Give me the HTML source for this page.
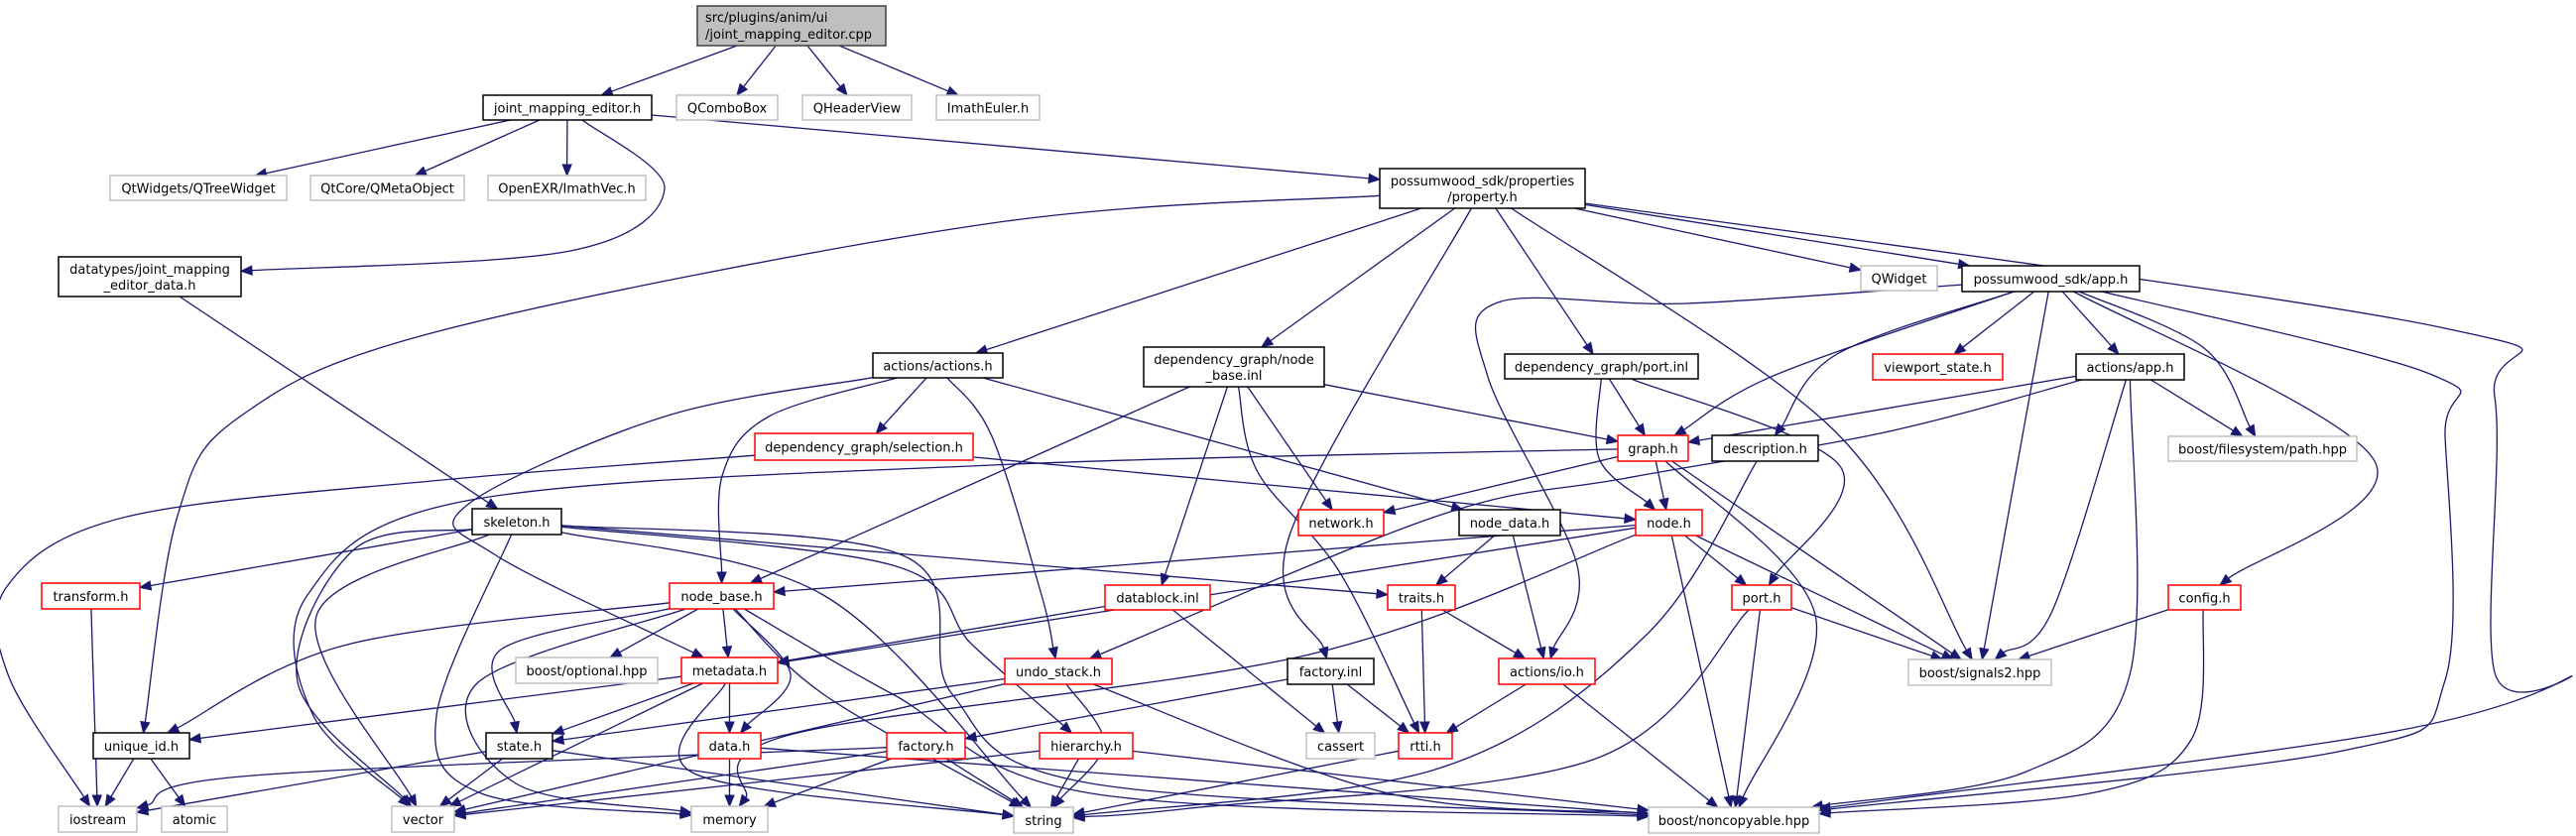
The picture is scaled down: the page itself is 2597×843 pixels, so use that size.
<!DOCTYPE html>
<html><head><meta charset="utf-8"><style>
html,body{margin:0;padding:0;background:#fff;width:2597px;height:843px;overflow:hidden}
svg{display:block}
text{font-family:"DejaVu Sans","Liberation Sans",sans-serif;font-size:13px;fill:#000}
</style></head><body>
<svg id="g" width="2597" height="843" viewBox="0 0 2597 843" xmlns="http://www.w3.org/2000/svg">
<g id="edges"></g><g id="nodes"></g>
<text x="-100" y="-100">src/plugins/anim/ui /joint_mapping_editor.cpp joint_mapping_editor.h QComboBox QHeaderView ImathEuler.h QtWidgets/QTreeWidget QtCore/QMetaObject OpenEXR/ImathVec.h datatypes/joint_mapping _editor_data.h possumwood_sdk/properties /property.h QWidget possumwood_sdk/app.h actions/actions.h dependency_graph/node _base.inl dependency_graph/port.inl viewport_state.h actions/app.h dependency_graph/selection.h graph.h description.h boost/filesystem/path.hpp skeleton.h network.h node_data.h node.h transform.h node_base.h traits.h datablock.inl port.h config.h boost/optional.hpp metadata.h undo_stack.h factory.inl actions/io.h boost/signals2.hpp unique_id.h state.h data.h factory.h hierarchy.h cassert rtti.h iostream atomic vector memory string boost/noncopyable.hpp</text>
</svg>
<script>
var N={
root:[703,6,893,46,["src/plugins/anim/ui","/joint_mapping_editor.cpp"],"root"],
jme:[487,96,657,121,["joint_mapping_editor.h"],"b"],
qcb:[682,96,784,121,["QComboBox"],"g"],
qhv:[809,96,919,121,["QHeaderView"],"g"],
ime:[944,96,1048,121,["ImathEuler.h"],"g"],
qtw:[111,177,289,202,["QtWidgets/QTreeWidget"],"g"],
qmo:[313,177,468,202,["QtCore/QMetaObject"],"g"],
ivec:[492,177,651,202,["OpenEXR/ImathVec.h"],"g"],
dt:[59,259,243,299,["datatypes/joint_mapping","_editor_data.h"],"b"],
prop:[1391,170,1598,210,["possumwood_sdk/properties","/property.h"],"b"],
qw:[1876,268,1953,293,["QWidget"],"g"],
app:[1978,268,2157,294,["possumwood_sdk/app.h"],"b"],
act:[880,356,1011,381,["actions/actions.h"],"b"],
nbi:[1153,350,1335,390,["dependency_graph/node","_base.inl"],"b"],
pinl:[1517,357,1712,382,["dependency_graph/port.inl"],"b"],
vps:[1888,357,2019,383,["viewport_state.h"],"r"],
aapp:[2093,357,2202,383,["actions/app.h"],"b"],
sel:[761,437,981,464,["dependency_graph/selection.h"],"r"],
graph:[1631,439,1702,465,["graph.h"],"r"],
desc:[1726,439,1833,465,["description.h"],"b"],
fs:[2186,440,2376,465,["boost/filesystem/path.hpp"],"g"],
skel:[476,513,566,539,["skeleton.h"],"b"],
net:[1309,514,1395,540,["network.h"],"r"],
nd:[1471,514,1573,540,["node_data.h"],"b"],
node:[1649,514,1716,540,["node.h"],"r"],
tr:[42,588,141,614,["transform.h"],"r"],
nb:[675,588,780,614,["node_base.h"],"r"],
trait:[1399,590,1467,615,["traits.h"],"r"],
dbi:[1114,590,1220,615,["datablock.inl"],"r"],
port:[1746,590,1806,615,["port.h"],"r"],
cfg:[2186,590,2259,615,["config.h"],"r"],
opt:[520,663,663,689,["boost/optional.hpp"],"g"],
meta:[687,663,784,689,["metadata.h"],"r"],
undo:[1013,664,1121,690,["undo_stack.h"],"r"],
finl:[1298,664,1385,690,["factory.inl"],"b"],
io:[1511,664,1608,690,["actions/io.h"],"r"],
sig:[1924,665,2068,691,["boost/signals2.hpp"],"g"],
uid:[94,739,191,765,["unique_id.h"],"b"],
state:[490,739,557,765,["state.h"],"b"],
data:[704,739,767,765,["data.h"],"r"],
fac:[894,739,973,765,["factory.h"],"r"],
hier:[1048,739,1142,765,["hierarchy.h"],"r"],
cas:[1317,739,1386,765,["cassert"],"g"],
rtti:[1410,739,1464,765,["rtti.h"],"r"],
ios:[59,813,138,839,["iostream"],"g"],
atom:[163,813,229,839,["atomic"],"g"],
vec:[395,813,458,839,["vector"],"g"],
mem:[697,813,774,839,["memory"],"g"],
str:[1022,814,1082,840,["string"],"g"],
nc:[1662,814,1834,840,["boost/noncopyable.hpp"],"g"]
};
var E=[
["root","jme"],["root","qcb"],["root","qhv"],["root","ime"],
["jme","qtw"],["jme","qmo"],["jme","ivec"],["jme","dt",[[670,190],[575,253]]],["jme","prop"],
["dt","skel"],
["prop","uid",[[1000,225],[446,333],[242,420],[179,520]]],["prop","act"],["prop","nbi"],
["prop","finl",[[1300,540]]],["prop","pinl"],["prop","sig",[[1848,433]]],["prop","qw"],["prop","app"],
["prop","nc",[[2460,330],[2515,400],[2515,678],[2590,683],[2400,740]]],
["app","io",[[1700,306],[1510,305],[1500,380],[1590,570]]],["app","graph",[[1790,378]]],["app","desc",[[1852,357]]],
["app","vps"],["app","sig"],["app","aapp"],["app","fs",[[2222,351]]],["app","cfg",[[2394,465]]],
["app","nc",[[2452,378],[2465,440],[2465,686],[2362,757]]],
["aapp","graph"],["aapp","undo",[[1900,436],[1640,482],[1450,520]]],["aapp","fs"],["aapp","sig",[[2069,616]]],
["aapp","nc",[[2147,681],[2043,778]]],
["cfg","sig"],["cfg","nc",[[2209,746],[2107,800]]],
["act","sel"],["act","nb",[[775,420],[728,480]]],["act","undo",[[1000,440],[1050,600]]],["act","meta",[[670,420],[470,510],[500,560]]],["act","nd"],
["sel","ios",[[446,484],[128,521],[8,590],[8,680]]],["sel","node"],
["nbi","nb"],["nbi","graph"],["nbi","net"],["nbi","dbi"],["nbi","rtti",[[1268,476],[1350,576]]],
["pinl","graph"],["pinl","node",[[1612,462]]],["pinl","port",[[1855,470]]],
["graph","net"],["graph","node"],["graph","sig"],["graph","nc",[[1830,620]]],
["graph","vec",[[1000,469],[470,505],[310,600],[315,720]]],
["desc","str",[[1660,640],[1450,775]]],
["node","nb"],["node","meta"],["node","port"],["node","sig"],["node","nc"],["node","mem",[[1320,660],[800,740]]],
["nd","trait"],["nd","io"],
["skel","tr"],["skel","vec",[[357,554],[300,688]]],["skel","vec",[[319,621]]],["skel","mem",[[440,722],[485,800]]],
["skel","trait"],["skel","hier",[[900,570],[980,650]]],["skel","str",[[830,600]]],["skel","nc",[[910,560],[960,700],[1100,790]]],
["trait","io"],["trait","rtti"],
["port","sig"],["port","nc"],["port","str",[[1606,766],[1200,815]]],
["nb","uid",[[350,650]]],["nb","opt"],["nb","meta"],["nb","data",[[797,680]]],["nb","state",[[505,655]]],
["nb","mem",[[480,690],[520,790]]],["nb","str",[[830,700]]],["nb","nc",[[900,700],[1100,800]]],
["dbi","meta"],["dbi","cas"],
["meta","uid"],["meta","state"],["meta","data"],["meta","vec"],["meta","str",[[700,780]]],
["undo","state"],["undo","vec"],["undo","str",[[1113,750]]],["undo","nc",[[1400,800]]],
["finl","fac"],["finl","cas"],["finl","rtti"],
["io","rtti"],["io","nc"],
["uid","ios"],["uid","atom"],["tr","ios"],
["state","ios"],["state","vec"],["state","str"],
["data","mem"],["data","nc"],
["fac","ios",[[255,782]]],["fac","mem"],["fac","str"],["fac","vec"],
["hier","vec"],["hier","str"],["hier","nc"],
["rtti","str"]
];
function ctr(n){var b=N[n];return[(b[0]+b[2])/2,(b[1]+b[3])/2];}
function clip(n,p){var b=N[n],c=ctr(n),dx=p[0]-c[0],dy=p[1]-c[1];
var hw=(b[2]-b[0])/2,hh=(b[3]-b[1])/2;var t=Math.min(dx?hw/Math.abs(dx):1e9,dy?hh/Math.abs(dy):1e9);
return[c[0]+dx*t,c[1]+dy*t];}
var eg="",ng="";
E.forEach(function(e){
 var w=e[2]||[];var s=clip(e[0],w.length?w[0]:ctr(e[1]));
 var last=w.length?w[w.length-1]:ctr(e[0]);var t=clip(e[1],last);
 var dx=t[0]-last[0],dy=t[1]-last[1],L=Math.hypot(dx,dy)||1;dx/=L;dy/=L;
 var al=11,aw=4.5;var te=[t[0]-dx*al,t[1]-dy*al];
 var pts=[s].concat(w).concat([te]);
 var d="M"+pts[0][0].toFixed(1)+","+pts[0][1].toFixed(1);
 for(var i=0;i<pts.length-1;i++){
  var p0=pts[i-1]||pts[i],p1=pts[i],p2=pts[i+1],p3=pts[i+2]||pts[i+1];
  var c1=[p1[0]+(p2[0]-p0[0])/6,p1[1]+(p2[1]-p0[1])/6],c2=[p2[0]-(p3[0]-p1[0])/6,p2[1]-(p3[1]-p1[1])/6];
  d+=" C"+c1[0].toFixed(1)+","+c1[1].toFixed(1)+" "+c2[0].toFixed(1)+","+c2[1].toFixed(1)+" "+p2[0].toFixed(1)+","+p2[1].toFixed(1);
 }
 eg+='<path d="'+d+'" fill="none" stroke="#191970" stroke-width="1.3"/>';
 eg+='<polygon points="'+t[0]+","+t[1]+" "+(te[0]-dy*aw)+","+(te[1]+dx*aw)+" "+(te[0]+dy*aw)+","+(te[1]-dx*aw)+'" fill="#191970" stroke="#191970"/>';
});
for(var k in N){var b=N[k],st=b[5];
 var fill=st=="root"?"#bfbfbf":"#fff",str=st=="root"?"#404040":st=="b"?"#000":st=="r"?"#ff0000":"#bfbfbf";
 ng+='<rect x="'+b[0]+'" y="'+b[1]+'" width="'+(b[2]-b[0])+'" height="'+(b[3]-b[1])+'" fill="'+fill+'" stroke="'+str+'" stroke-width="1.5"/>';
 var lines=b[4],cx=(b[0]+b[2])/2,cy=(b[1]+b[3])/2;
 if(st=="root"){ng+='<text x="'+(b[0]+8)+'" y="'+(b[1]+16)+'">'+lines[0]+'</text><text x="'+(b[0]+8)+'" y="'+(b[1]+33)+'">'+lines[1]+'</text>';}
 else if(lines.length==2){ng+='<text x="'+cx+'" y="'+(cy-3)+'" text-anchor="middle">'+lines[0]+'</text><text x="'+cx+'" y="'+(cy+13)+'" text-anchor="middle">'+lines[1]+'</text>';}
 else ng+='<text x="'+cx+'" y="'+(cy+5)+'" text-anchor="middle">'+lines[0]+'</text>';
}
document.getElementById("edges").innerHTML=eg;
document.getElementById("nodes").innerHTML=ng;
</script>
</body></html>
